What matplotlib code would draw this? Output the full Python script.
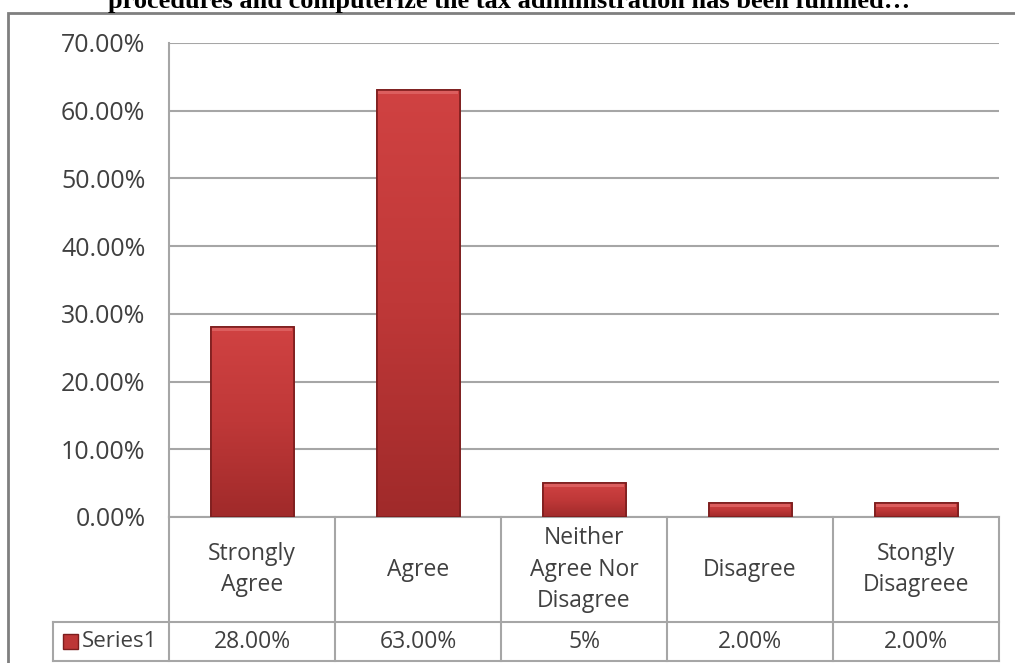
import numpy as np
import matplotlib.pyplot as plt
from matplotlib.patches import Rectangle
from matplotlib.colors import LinearSegmentedColormap

# survey responses (percent of respondents)
categories = ['Strongly\nAgree', 'Agree', 'Neither\nAgree Nor\nDisagree', 'Disagree', 'Stongly\nDisagreee']
values = [28.00, 63.00, 5.00, 2.00, 2.00]
value_labels = ['28.00%', '63.00%', '5%', '2.00%', '2.00%']
series_name = 'Series1'
yticks = [0, 10, 20, 30, 40, 50, 60, 70]
title = 'procedures and computerize the tax administration has been fulfilled\u2026'

W, H = 1015, 663
GRID = '#a6a6a6'
TXT = '#404040'
FONT = 'Open Sans'


def px_box(x0, y0, x1, y1):
    return [x0 / W, 1 - y1 / H, (x1 - x0) / W, (y1 - y0) / H]


fig = plt.figure(figsize=(W / 100, H / 100), dpi=100)

# outer chart frame, runs off the right and bottom edges
fig.patches.append(Rectangle((8 / W, -0.05), 1.1, 1 - 13 / H + 0.05,
                             transform=fig.transFigure, fill=False,
                             edgecolor='#7f7f7f', lw=2.0))

fig.text(509 / W, 1 - 8 / H, title, ha='center', va='baseline',
         family='Liberation Serif', weight='bold', fontsize=19, color='black')

ax = fig.add_axes(px_box(169, 43, 999, 517))
x = np.arange(len(values))
bars = ax.bar(x, values, width=0.5, color='#bd3636', edgecolor='#7d1d1d',
              lw=1.2, zorder=3)

# vertical shading inside each bar
cmap = LinearSegmentedColormap.from_list('bar', ['#a02a2a', '#bf3838', '#d04242'])
grad = np.linspace(0, 1, 256).reshape(-1, 1)
for b in bars:
    bx, bw, bh = b.get_x(), b.get_width(), b.get_height()
    im = ax.imshow(grad, cmap=cmap, aspect='auto', origin='lower',
                   extent=(bx, bx + bw, 0, bh), zorder=3.1)
    im.set_clip_path(b)
    # light bevel along the top
    ax.add_patch(Rectangle((bx + 0.01, bh - min(0.5, bh * 0.3)), bw - 0.02,
                           min(0.5, bh * 0.3), facecolor='#dc5e5e',
                           edgecolor='none', zorder=3.2))
    ax.add_patch(Rectangle((bx, 0), bw, bh, fill=False, edgecolor='#7d1d1d',
                           lw=1.2, zorder=3.3))

ax.set_xlim(-0.5, len(values) - 0.5)
ax.set_ylim(0, 70)
ax.set_yticks(yticks)
ax.set_yticklabels([f'{v:.2f}%' for v in yticks], family=FONT, fontsize=18,
                   color=TXT)
ax.set_xticks([])
ax.tick_params(axis='y', length=0, pad=17)
ax.grid(axis='y', color=GRID, lw=1.5, zorder=0)
for s in ['top', 'right', 'bottom']:
    ax.spines[s].set_visible(False)
ax.spines['left'].set_color(GRID)
ax.spines['left'].set_linewidth(1.5)

# data table under the plot: x in data units, y in axes fraction
tr = ax.get_xaxis_transform()
ah = 517 - 43
row1 = -(622 - 517) / ah
row2 = -(661 - 517) / ah
left_edge = -0.5 - (169 - 53) / 166
n = len(values)
kw = dict(color=GRID, lw=1.5, transform=tr, clip_on=False)
ax.plot([-0.5, n - 0.5], [0, 0], **kw)
ax.plot([left_edge, n - 0.5], [row1, row1], **kw)
ax.plot([left_edge, n - 0.5], [row2, row2], **kw)
ax.plot([left_edge, left_edge], [row1, row2], **kw)
for i in range(n + 1):
    ax.plot([i - 0.5, i - 0.5], [0, row2], **kw)

for i, (c, v) in enumerate(zip(categories, value_labels)):
    ax.text(i, row1 / 2, c, transform=tr, ha='center', va='center',
            family=FONT, fontsize=16.5, color=TXT, linespacing=1.4)
    ax.text(i, (row1 + row2) / 2, v, transform=tr, ha='center', va='center',
            family=FONT, fontsize=16.5, color=TXT)

# legend key in the series row
key_w = 15 / 166
ax.add_patch(Rectangle((left_edge + 10 / 166, (row1 + row2) / 2 - 7.5 / ah),
                       key_w, 15 / ah, transform=tr, clip_on=False,
                       facecolor='#bd3636', edgecolor='#7d1d1d', lw=1))
ax.text(left_edge + 29 / 166, (row1 + row2) / 2, series_name, transform=tr,
        ha='left', va='center', family=FONT, fontsize=16, color=TXT)

fig.savefig('out.png', dpi=100)
